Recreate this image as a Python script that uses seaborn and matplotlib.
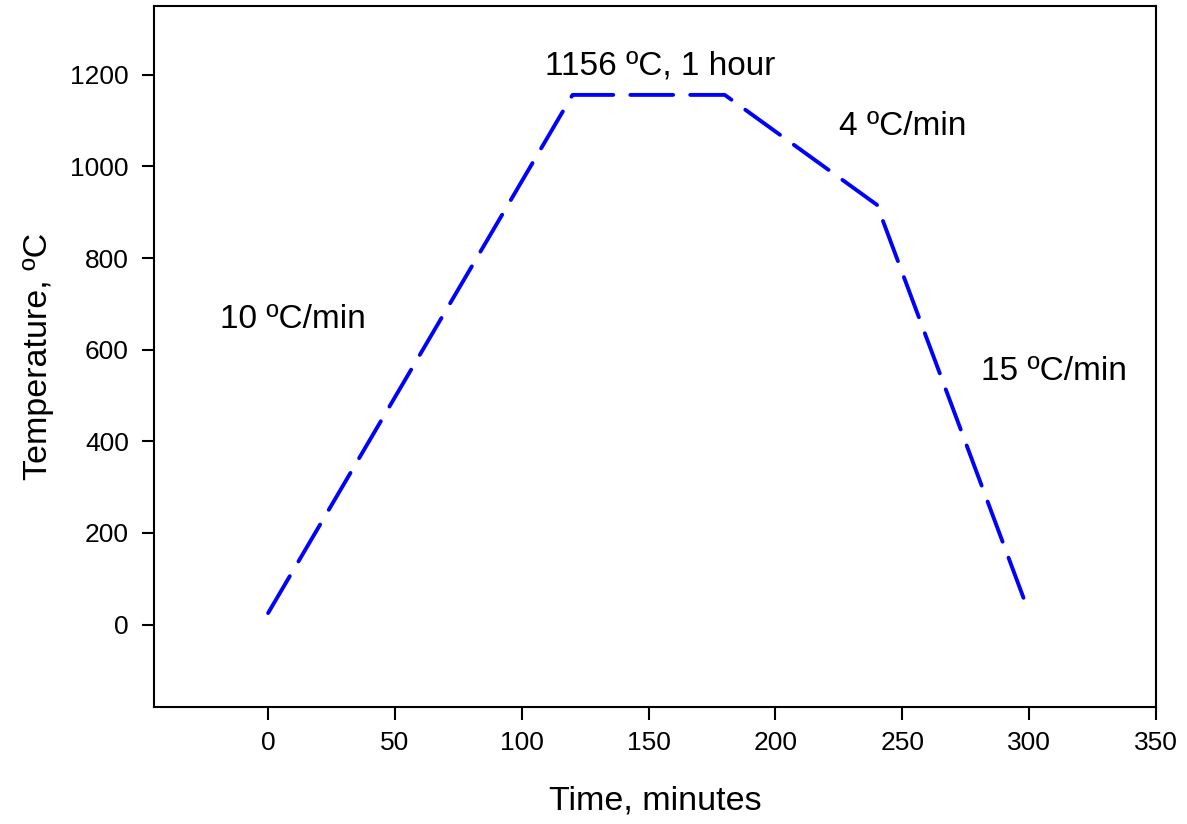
import numpy as np
import pandas as pd
import seaborn as sns
import matplotlib.pyplot as plt

# heat treatment schedule
time_min = [0, 120, 180, 240, 300]
temp_c = [25, 1156, 1156, 916, 25]

notes = ["10 ºC/min", "1156 ºC, 1 hour", "4 ºC/min", "15 ºC/min"]
note_x = [-19, 109, 225, 281]
note_y = [666, 1218, 1088, 553]

sns.set_style("ticks")
plt.rcParams['font.family'] = ['Liberation Sans', 'DejaVu Sans']
plt.rcParams.update({'text.color': 'black', 'axes.labelcolor': 'black',
                     'xtick.color': 'black', 'ytick.color': 'black',
                     'axes.edgecolor': 'black'})

df = pd.DataFrame({'time': time_min, 'temp': temp_c})

fig, ax = plt.subplots(figsize=(11.87, 8.24), dpi=100)
fig.subplots_adjust(left=0.1297, right=0.9739, top=0.9927, bottom=0.142)

sns.lineplot(data=df, x='time', y='temp', ax=ax, color='#0000ff', linewidth=2.8)
ax.lines[0].set_dashes([11, 4.4])
ax.lines[0].set_dash_capstyle('round')

for txt, xx, yy in zip(notes, note_x, note_y):
    ax.text(xx, yy, txt, fontsize=24, ha='left', va='center')

ax.set_xlim(-45, 350)
ax.set_ylim(-180, 1350)
ax.set_xticks([0, 50, 100, 150, 200, 250, 300, 350])
ax.set_yticks([0, 200, 400, 600, 800, 1000, 1200])
ax.tick_params(labelsize=19, length=9, width=1.5, direction='out')
ax.tick_params(axis='x', pad=8)
ax.tick_params(axis='y', pad=9)
for s in ax.spines.values():
    s.set_linewidth(1.5)

ax.set_xlabel("Time, minutes", fontsize=24.5, labelpad=22)
ax.set_ylabel("Temperature, ºC", fontsize=24.5, labelpad=12)

fig.savefig("out.png", dpi=100)
